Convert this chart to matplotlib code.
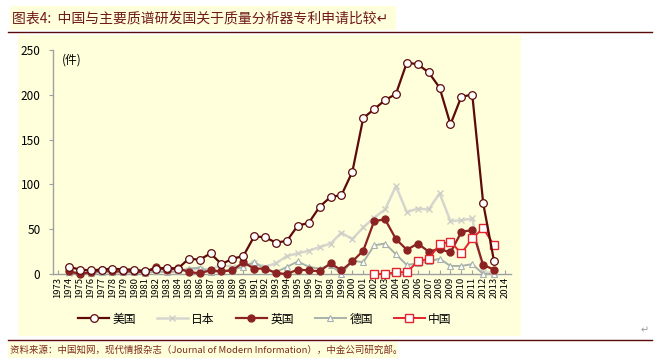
import matplotlib

matplotlib.use("Agg")
import matplotlib.pyplot as plt  # noqa: E402
from matplotlib.patches import Rectangle  # noqa: E402
from matplotlib.lines import Line2D  # noqa: E402

plt.rcParams["font.family"] = ["Noto Sans CJK SC", "DejaVu Sans"]

years = list(range(1974, 2014))
tick_years = list(range(1973, 2015))

us = [8, 5, 4, 5, 6, 5, 5, 3, 6, 7, 6, 17, 16, 23, 11, 17, 20, 42, 41, 35,
      37, 54, 57, 75, 86, 88, 114, 174, 184, 194, 201, 236, 234, 225, 208,
      167, 198, 200, 79, 14]
japan = [1, 2, 2, 2, 2, 2, 2, 2, 3, 3, 3, 4, 6, 5, 10, 8, 10, 12, 8, 12,
         20, 23, 26, 30, 34, 46, 39, 52, 63, 72, 98, 69, 73, 72, 90,
         59, 60, 62, 2, 1]
uk = [3, 0, 2, 4, 3, 3, 3, 2, 8, 4, 7, 2, 1, 4, 3, 4, 13, 6, 6, 1,
      0, 5, 4, 3, 12, 4, 14, 26, 59, 61, 39, 27, 34, 25, 28,
      24, 47, 49, 10, 5]
germany = [2, 2, 1, 2, 2, 2, 2, 1, 3, 2, 3, 6, 7, 2, 3, 5, 8, 13, 6, 2,
           8, 14, 8, 6, 10, 0, 15, 13, 32, 34, 22, 10, 12, 14, 17,
           9, 9, 11, 0, 0]
china_years = list(range(2002, 2014))
china = [0, 0, 2, 2, 14, 17, 33, 36, 23, 40, 51, 32]

labels = ["美国", "日本", "英国", "德国", "中国"]
title = "图表4:  中国与主要质谱研发国关于质量分析器专利申请比较↵"
source = "资料来源：中国知网，现代情报杂志（Journal of Modern Information），中金公司研究部。"

W, H = 660, 364
fig = plt.figure(figsize=(W / 100, H / 100), dpi=100)
fig.patch.set_facecolor("white")


def px(x, y):
    return x / W, 1 - y / H


def rect(x0, y0, x1, y1, color):
    fx, fy = px(x0, y1)
    fig.patches.append(Rectangle((fx, fy), (x1 - x0) / W, (y1 - y0) / H,
                                 transform=fig.transFigure, color=color,
                                 zorder=-10, lw=0))


panel = "#FFFFDC"
rect(10, 6, 396, 30, panel)
rect(18, 35, 521, 336, panel)
rect(8, 342, 398, 358, panel)

line_col = "#5A0A0A"
fig.add_artist(Line2D([8 / W, 652 / W], [1 - 32 / H] * 2, color=line_col, lw=1.0))
fig.add_artist(Line2D([8 / W, 652 / W], [1 - 340 / H] * 2, color=line_col, lw=1.0))

tx, ty = px(12, 19)
fig.text(tx, ty, title, fontsize=10, color="#6E1A1A", va="center", ha="left",
         style="italic")
sx, sy = px(10, 350)
fig.text(sx, sy, source, fontsize=6.8, color="#7A2A1A", va="center", ha="left",
         style="italic")
ax_, ay_ = px(645, 330)
fig.text(ax_, ay_, "↵", fontsize=7, color="#999999", va="center", ha="center")

l, b = px(53, 274)
r, t = px(511, 50)
ax = fig.add_axes([l, b, r - l, t - b])
ax.set_facecolor("none")

ax.plot(years, japan, color="#D6D6CE", lw=1.8, marker="x", ms=4, mew=1.0,
        mec="#CFCFC6", zorder=2, clip_on=False, label=labels[1])
ax.plot(years, germany, color="#A8B2AA", lw=1.4, marker="^", ms=5,
        mfc="white", mec="#A8B2AA", mew=0.8, zorder=3, clip_on=False,
        label=labels[3])
ax.plot(years, uk, color="#8B2323", lw=1.6, marker="o", ms=5, mfc="#8B2323",
        mec="#8B2323", zorder=4, clip_on=False, label=labels[2])
ax.plot(china_years, china, color="#E3242B", lw=1.4, marker="s", ms=5.5,
        mfc="white", mec="#E3242B", mew=1.0, zorder=5, clip_on=False,
        label=labels[4])
ax.plot(years, us, color="#5C0A0A", lw=1.6, marker="o", ms=5.5, mfc="white",
        mec="#5C0A0A", mew=0.9, zorder=6, clip_on=False, label=labels[0])

ax.set_ylim(0, 250)
ax.set_xlim(1972.55, 2014.55)
ax.set_yticks([0, 50, 100, 150, 200, 250])
ax.set_xticks(tick_years)
ax.set_xticklabels([str(y) for y in tick_years], rotation=90, fontsize=6.8)
ax.tick_params(axis="y", labelsize=8.5, length=3, color="#A0A0A0", pad=6)
ax.tick_params(axis="x", direction="in", length=3, color="#A0A0A0", pad=2)
ax.spines[["top", "right"]].set_visible(False)
for s in ("left", "bottom"):
    ax.spines[s].set_color("#A0A0A0")
    ax.spines[s].set_linewidth(1.0)
ax.text(0.02, 0.985, "(件)", transform=ax.transAxes, fontsize=8.5,
        va="top", ha="left")

handles, hl = ax.get_legend_handles_labels()
order = [hl.index(n) for n in labels]
lx, ly = px(265, 319)
fig.legend([handles[i] for i in order], [hl[i] for i in order], loc="center",
           bbox_to_anchor=(lx, ly), ncol=5, frameon=False, fontsize=8.5,
           handlelength=2.6, columnspacing=1.8, handletextpad=0.3)

fig.savefig("out.png", dpi=100)
